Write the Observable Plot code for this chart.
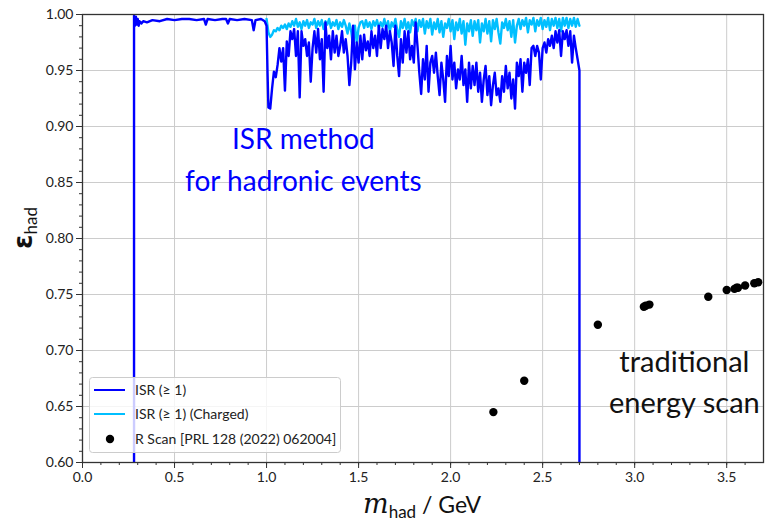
<!DOCTYPE html>
<html><head><meta charset="utf-8">
<script src="https://cdn.jsdelivr.net/npm/d3@7"></script>
<script src="https://cdn.jsdelivr.net/npm/@observablehq/plot@0.6"></script>
<style>body{margin:0;background:#fff}#chart{width:769px;height:522px}</style>
</head><body><div id="chart"></div>
<script>
// ISR (>= 1): low-mass part (explicit points)
const isrLowMass = [0.28,0.28,0.285,0.29,0.295,0.30,0.305,0.31,0.32,0.33,0.35,0.38,0.42,0.46,0.50,0.54,0.58,0.62,0.66,0.67,0.68,0.72,0.76,0.78,0.79,0.80,0.84,0.88,0.92,0.93,0.94,0.97,0.99,1.00,1.005];
const isrLowEff  = [0.600,0.999,0.990,0.998,0.991,0.996,0.990,0.994,0.992,0.994,0.993,0.995,0.994,0.996,0.995,0.996,0.996,0.995,0.996,0.991,0.996,0.995,0.996,0.996,0.992,0.996,0.995,0.996,0.995,0.986,0.995,0.996,0.994,0.990,0.950];
// ISR (>= 1): 10 MeV bins from 1.01 to 2.70 GeV
const isrBinStart = 1.01, binWidth = 0.01;
const isrBinEff = [
0.917,0.916,0.934,0.949,0.944,0.955,0.970,0.958,0.970,0.932,
0.976,0.963,0.985,0.978,0.987,0.963,0.985,0.926,0.985,0.972,
0.978,0.963,0.975,0.940,0.970,0.985,0.966,0.987,0.960,0.978,
0.931,0.993,0.970,0.981,0.960,0.985,0.966,0.981,0.963,0.972,
0.985,0.966,0.978,0.963,0.937,0.957,0.990,0.951,0.975,0.957,
0.981,0.960,0.982,0.968,0.976,0.963,0.985,0.970,0.981,0.963,
0.990,0.970,0.987,0.978,0.990,0.970,0.985,0.975,0.954,0.990,
0.963,0.945,0.978,0.957,0.985,0.966,0.985,0.960,0.972,0.957,
0.993,0.972,0.948,0.929,0.960,0.942,0.972,0.931,0.957,0.963,
0.948,0.966,0.945,0.928,0.957,0.942,0.922,0.963,0.945,0.972,
0.942,0.957,0.934,0.951,0.942,0.963,0.937,0.951,0.922,0.957,
0.934,0.954,0.937,0.957,0.931,0.948,0.922,0.942,0.954,0.928,
0.945,0.919,0.937,0.948,0.928,0.934,0.922,0.945,0.931,0.954,
0.934,0.948,0.925,0.942,0.916,0.957,0.945,0.960,0.931,0.957,
0.948,0.960,0.937,0.970,0.972,0.963,0.972,0.966,0.942,0.970,
0.975,0.966,0.978,0.972,0.981,0.970,0.985,0.975,0.986,0.963,
0.985,0.978,0.986,0.972,0.985,0.957,0.981,0.970,0.960,0.950];
const isrEndMass = [2.70], isrEndEff = [0.600];

// ISR (>= 1) (Charged): 10 MeV bins from 1.00 to 2.70 GeV
const chBinStart = 1.00;
const chBinEff = [
0.996,0.984,0.980,0.982,0.986,0.985,0.988,0.986,0.990,0.988,
0.991,0.987,0.992,0.989,0.994,0.990,0.996,0.989,0.993,0.987,
0.994,0.990,0.995,0.988,0.993,0.991,0.996,0.988,0.994,0.990,
0.995,0.987,0.994,0.991,0.996,0.988,0.993,0.990,0.995,0.987,
0.993,0.989,0.995,0.990,0.983,0.992,0.985,0.972,0.990,0.975,
0.988,0.993,0.994,0.988,0.995,0.989,0.993,0.987,0.994,0.990,
0.995,0.988,0.993,0.989,0.996,0.988,0.994,0.985,0.993,0.989,
0.996,0.986,0.980,0.994,0.988,0.996,0.987,0.993,0.984,0.995,
0.990,0.996,0.985,0.995,0.989,0.996,0.983,0.994,0.988,0.996,
0.982,0.993,0.987,0.996,0.984,0.994,0.980,0.992,0.988,0.996,
0.985,0.995,0.978,0.993,0.986,0.996,0.983,0.994,0.973,0.992,
0.985,0.995,0.981,0.994,0.986,0.995,0.975,0.992,0.985,0.996,
0.983,0.994,0.976,0.995,0.987,0.996,0.984,0.974,0.993,0.988,
0.996,0.986,0.994,0.980,0.995,0.975,0.990,0.996,0.987,0.995,
0.990,0.997,0.984,0.995,0.991,0.997,0.985,0.995,0.990,0.997,
0.987,0.995,0.989,0.997,0.986,0.996,0.990,0.997,0.988,0.996,
0.985,0.997,0.990,0.997,0.988,0.996,0.990,0.997,0.989,0.996,
0.990];

// R scan points
const rScanMass = [2.2324,2.4,2.8,3.05,3.06,3.08,3.4,3.5,3.5424,3.5538,3.5611,3.6002,3.65,3.671];
const rScanEff  = [0.645,0.673,0.723,0.739,0.740,0.741,0.748,0.754,0.755,0.756,0.756,0.758,0.760,0.761];

const xTicks = [0.0,0.5,1.0,1.5,2.0,2.5,3.0,3.5];
const yTicks = [0.60,0.65,0.70,0.75,0.80,0.85,0.90,0.95,1.00];
const xMinor = d3.range(0, 37).map(i => i / 10);
const yMinor = d3.range(60, 101).map(i => i / 100);

const annoIsrText = ["ISR method", "for hadronic events"];
const annoIsrX = [1.2, 1.2];
const annoIsrY = [0.888, 0.850];
const annoScanText = ["traditional", "energy scan"];
const annoScanX = [3.27, 3.27];
const annoScanY = [0.689, 0.6526];

const legendLabels = ["ISR (\u2265 1)", "ISR (\u2265 1) (Charged)", "R Scan [PRL 128 (2022) 062004]"];

const BLUE = "#0000ff", CYAN = "#00bfff";
const round2 = v => Math.round(v * 1000) / 1000;
const isrData = [
  ...isrLowMass.map((m, i) => ({m, e: isrLowEff[i]})),
  ...isrBinEff.map((e, i) => ({m: round2(isrBinStart + i * binWidth), e})),
  ...isrEndMass.map((m, i) => ({m, e: isrEndEff[i]}))
];
const chData = chBinEff.map((e, i) => ({m: round2(chBinStart + i * binWidth), e}));
const rData = rScanMass.map((m, i) => ({m, e: rScanEff[i]}));
const isrAnno = annoIsrText.map((t, i) => ({t, x: annoIsrX[i], y: annoIsrY[i]}));
const scanAnno = annoScanText.map((t, i) => ({t, x: annoScanX[i], y: annoScanY[i]}));

const chart = Plot.plot({
  width: 769, height: 522,
  marginLeft: 82, marginRight: 6, marginTop: 14, marginBottom: 60,
  style: {fontFamily: "Lato, sans-serif", fontSize: "14px", color: "#222", background: "#fff"},
  x: {domain: [0, 3.7]},
  y: {domain: [0.6, 1.0]},
  marks: [
    Plot.gridX(xTicks, {stroke: "#cccccc", strokeOpacity: 1, strokeWidth: 1}),
    Plot.gridY(yTicks, {stroke: "#cccccc", strokeOpacity: 1, strokeWidth: 1}),
    Plot.axisX(xMinor, {tickSize: 3, tickFormat: () => "", label: null, stroke: "#333"}),
    Plot.axisY(yMinor, {tickSize: 3, tickFormat: () => "", label: null, stroke: "#333"}),
    Plot.axisX(xTicks, {tickSize: 6, tickPadding: 4, tickFormat: d3.format(".1f"), label: null, stroke: "#333", fill: "#222"}),
    Plot.axisY(yTicks, {tickSize: 6, tickPadding: 3, tickFormat: d3.format(".2f"), label: null, stroke: "#333", fill: "#222"}),
    Plot.line(chData, {x: "m", y: "e", stroke: CYAN, strokeWidth: 2.4, clip: true}),
    Plot.line(isrData, {x: "m", y: "e", stroke: BLUE, strokeWidth: 2.4, clip: true}),
    Plot.dot(rData, {x: "m", y: "e", r: 4.2, fill: "black", stroke: null}),
    Plot.text(isrAnno, {x: "x", y: "y", text: "t", fill: BLUE, fontSize: 28, fontFamily: "Lato, sans-serif"}),
    Plot.text(scanAnno, {x: "x", y: "y", text: "t", fill: "#111", fontSize: 29, fontFamily: "Lato, sans-serif"}),
    Plot.frame({stroke: "#333", strokeWidth: 1.3})
  ]
});
document.getElementById("chart").appendChild(chart);

const svg = d3.select(chart);
// legend
const lg = svg.append("g").attr("font-family", "Lato, sans-serif").attr("font-size", 14).attr("text-anchor", "start");
lg.append("rect").attr("x", 89.5).attr("y", 377.5).attr("width", 251).attr("height", 75).attr("rx", 3)
  .attr("fill", "white").attr("fill-opacity", 0.8).attr("stroke", "#cccccc");
const rowsY = [390, 414, 439];
lg.append("line").attr("x1", 94).attr("x2", 125).attr("y1", rowsY[0]).attr("y2", rowsY[0]).attr("stroke", BLUE).attr("stroke-width", 2);
lg.append("line").attr("x1", 94).attr("x2", 125).attr("y1", rowsY[1]).attr("y2", rowsY[1]).attr("stroke", CYAN).attr("stroke-width", 2);
lg.append("circle").attr("cx", 110).attr("cy", rowsY[2]).attr("r", 4.2).attr("fill", "black");
legendLabels.forEach((t, i) => {
  lg.append("text").attr("x", 135).attr("y", rowsY[i]).attr("dy", "0.35em").attr("text-anchor", "start").attr("fill", "#222").text(t);
});
// y label
const yl = svg.append("text").attr("transform", "translate(32,228) rotate(-90)")
  .attr("text-anchor", "middle").attr("font-family", "DejaVu Sans, sans-serif").attr("fill", "#111");
yl.append("tspan").attr("font-size", 26).attr("font-weight", "bold").text("\u03b5");
yl.append("tspan").attr("font-size", 17).attr("dy", 5).attr("font-family", "Lato, sans-serif").text("had");
// x label
const xl = svg.append("text").attr("x", 422).attr("y", 513).attr("text-anchor", "middle")
  .attr("font-family", "Lato, sans-serif").attr("fill", "#111");
xl.append("tspan").attr("font-size", 27).attr("font-style", "italic").attr("font-family", "DejaVu Serif, serif").text("m");
xl.append("tspan").attr("font-size", 17).attr("dy", 5).text("had");
xl.append("tspan").attr("font-size", 23).attr("dy", -5).text(" / GeV");
</script>
</body></html>
